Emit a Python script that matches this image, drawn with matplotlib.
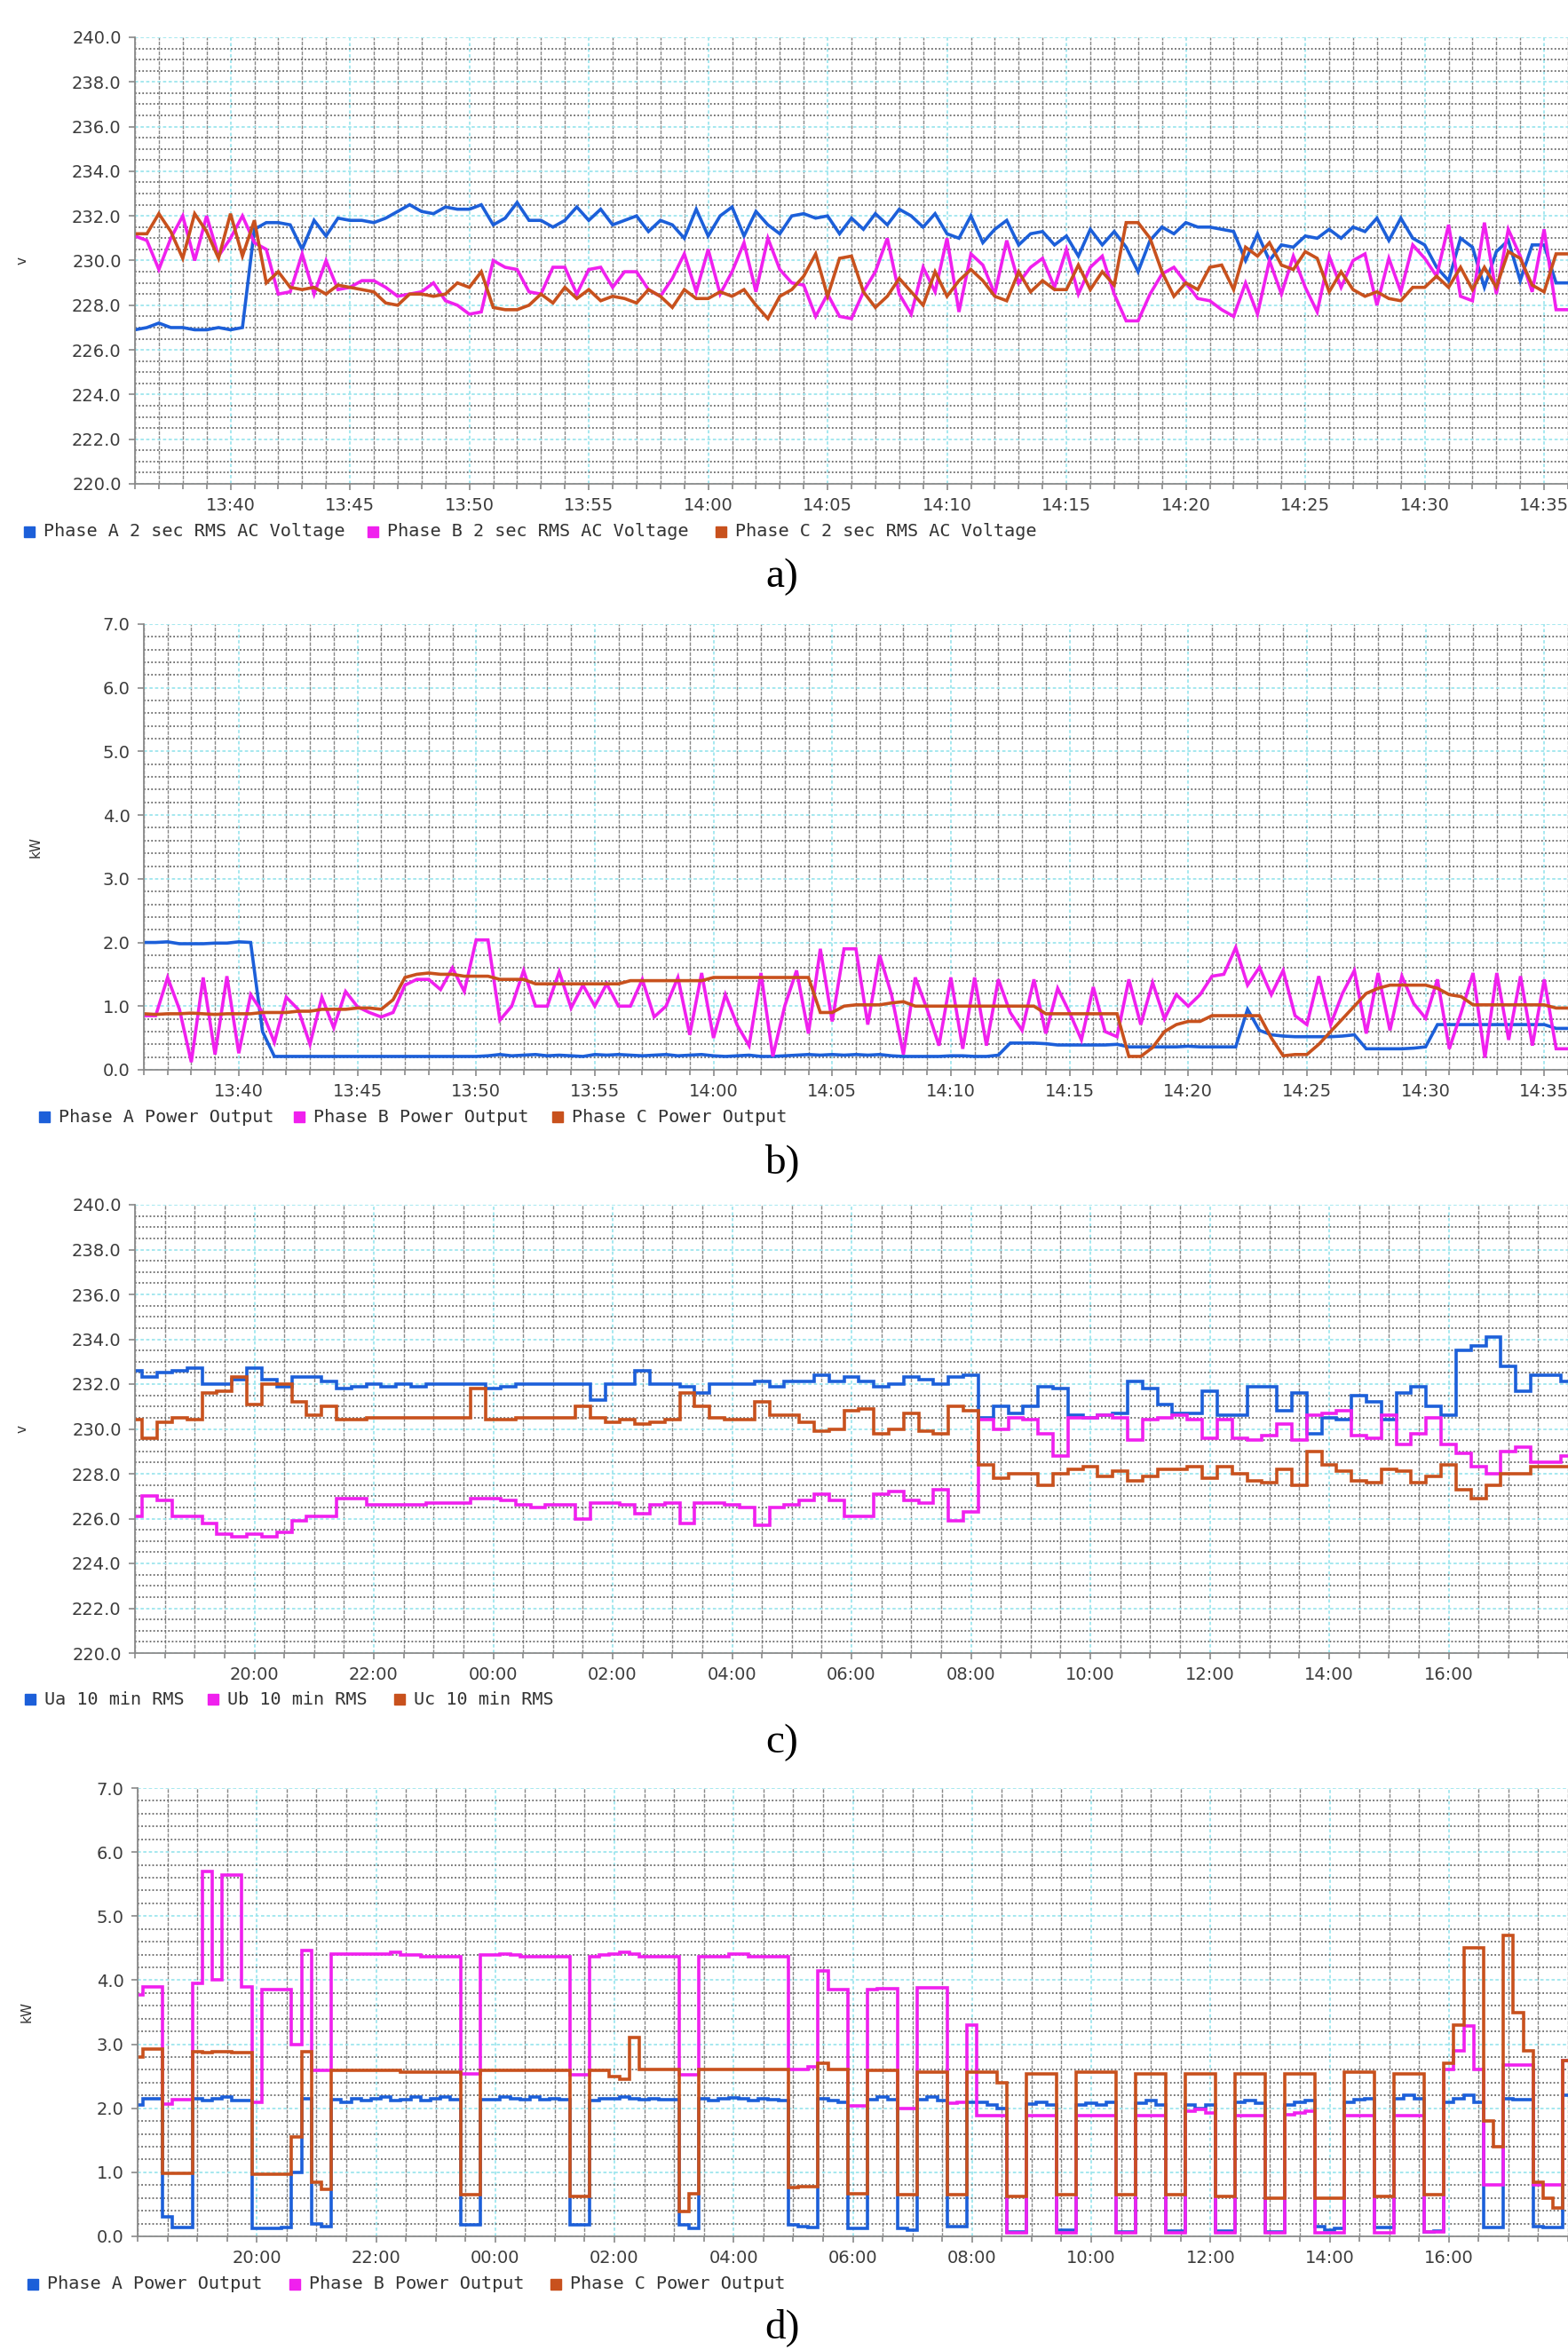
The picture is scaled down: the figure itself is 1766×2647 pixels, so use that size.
import numpy as np
import matplotlib.pyplot as plt
from matplotlib.patches import Rectangle
from matplotlib.ticker import MultipleLocator, FixedLocator

# ---- a) 2 sec RMS voltage, 13:36 - 14:36, one value per 30 s ----
va_a = [226.9, 227.0, 227.2, 227.0, 227.0, 226.9, 226.9, 227.0, 226.9, 227.0,
        231.4, 231.7, 231.7, 231.6, 230.5, 231.8, 231.1, 231.9, 231.8, 231.8,
        231.7, 231.9, 232.2, 232.5, 232.2, 232.1, 232.4, 232.3, 232.3, 232.5,
        231.6, 231.9, 232.6, 231.8, 231.8, 231.5, 231.8, 232.4, 231.8, 232.3,
        231.6, 231.8, 232.0, 231.3, 231.8, 231.6, 231.0, 232.3, 231.1, 232.0,
        232.4, 231.1, 232.2, 231.6, 231.2, 232.0, 232.1, 231.9, 232.0, 231.2,
        231.9, 231.4, 232.1, 231.6, 232.3, 232.0, 231.5, 232.1, 231.2, 231.0,
        232.0, 230.8, 231.4, 231.8, 230.7, 231.2, 231.3, 230.7, 231.1, 230.2,
        231.4, 230.7, 231.3, 230.6, 229.5, 230.9, 231.5, 231.2, 231.7, 231.5,
        231.5, 231.4, 231.3, 230.0, 231.2, 230.0, 230.7, 230.6, 231.1, 231.0,
        231.4, 231.0, 231.5, 231.3, 231.9, 230.9, 231.9, 231.0, 230.7, 229.7,
        229.1, 231.0, 230.6, 228.8, 230.4, 230.9, 229.1, 230.7, 230.7, 229.0]
vb_a = [231.1, 230.9, 229.6, 231.0, 232.0, 230.0, 232.0, 230.2, 231.0, 232.0,
        230.8, 230.5, 228.5, 228.6, 230.3, 228.5, 230.0, 228.7, 228.8, 229.1,
        229.1, 228.8, 228.4, 228.5, 228.6, 229.0, 228.2, 228.0, 227.6, 227.7,
        230.0, 229.7, 229.6, 228.6, 228.5, 229.7, 229.7, 228.5, 229.6, 229.7,
        228.8, 229.5, 229.5, 228.7, 228.4, 229.2, 230.3, 228.6, 230.5, 228.5,
        229.5, 230.8, 228.6, 231.0, 229.6, 229.0, 228.9, 227.5, 228.5, 227.5,
        227.4, 228.6, 229.5, 231.0, 228.5, 227.6, 229.7, 228.6, 231.0, 227.7,
        230.3, 229.8, 228.5, 230.9, 229.0, 229.7, 230.1, 228.8, 230.5, 228.5,
        229.7, 230.2, 228.5, 227.3, 227.3, 228.5, 229.4, 229.7, 229.0, 228.3,
        228.2, 227.8, 227.5, 229.0, 227.6, 230.0, 228.5, 230.2, 228.8, 227.7,
        230.2, 228.8, 230.0, 230.3, 228.0, 230.1, 228.6, 230.7, 230.1, 229.3,
        231.6, 228.4, 228.2, 231.7, 228.5, 231.4, 230.2, 228.6, 231.4, 227.8]
vc_a = [231.2, 231.2, 232.1, 231.3, 230.1, 232.1, 231.3, 230.1, 232.1, 230.2,
        231.8, 229.0, 229.5, 228.8, 228.7, 228.8, 228.5, 228.9, 228.8, 228.7,
        228.6, 228.1, 228.0, 228.5, 228.5, 228.4, 228.5, 229.0, 228.8, 229.5,
        227.9, 227.8, 227.8, 228.0, 228.5, 228.1, 228.8, 228.3, 228.7, 228.2,
        228.4, 228.3, 228.1, 228.7, 228.4, 227.9, 228.7, 228.3, 228.3, 228.6,
        228.4, 228.7, 228.0, 227.4, 228.4, 228.7, 229.3, 230.3, 228.4, 230.1,
        230.2, 228.6, 227.9, 228.4, 229.2, 228.6, 228.0, 229.5, 228.4, 229.1,
        229.6, 229.1, 228.4, 228.2, 229.5, 228.6, 229.1, 228.7, 228.7, 229.8,
        228.7, 229.5, 228.9, 231.7, 231.7, 231.0, 229.5, 228.4, 229.0, 228.7,
        229.7, 229.8, 228.7, 230.6, 230.2, 230.8, 229.8, 229.6, 230.4, 230.1,
        228.6, 229.5, 228.7, 228.4, 228.6, 228.3, 228.2, 228.8, 228.8, 229.3,
        228.8, 229.7, 228.7, 229.7, 228.8, 230.4, 230.1, 228.9, 228.6, 230.3]

# ---- b) power output, 13:36 - 14:36, one value per 30 s ----
pa_b = [2.00, 2.00, 2.01, 1.98, 1.98, 1.98, 1.99, 1.99, 2.01, 2.00,
        0.60, 0.21, 0.21, 0.21, 0.21, 0.21, 0.21, 0.21, 0.21, 0.21,
        0.21, 0.21, 0.21, 0.21, 0.21, 0.21, 0.21, 0.21, 0.21, 0.22,
        0.24, 0.22, 0.23, 0.24, 0.22, 0.23, 0.22, 0.21, 0.24, 0.23,
        0.24, 0.23, 0.22, 0.23, 0.24, 0.22, 0.23, 0.24, 0.22, 0.21,
        0.22, 0.23, 0.21, 0.21, 0.22, 0.23, 0.24, 0.23, 0.24, 0.23,
        0.24, 0.23, 0.24, 0.22, 0.21, 0.21, 0.21, 0.21, 0.22, 0.22,
        0.21, 0.21, 0.23, 0.42, 0.42, 0.42, 0.41, 0.39, 0.39, 0.39,
        0.39, 0.39, 0.40, 0.36, 0.36, 0.36, 0.36, 0.36, 0.37, 0.36,
        0.36, 0.36, 0.36, 0.95, 0.62, 0.55, 0.53, 0.52, 0.52, 0.52,
        0.52, 0.53, 0.55, 0.33, 0.33, 0.33, 0.33, 0.34, 0.36, 0.71,
        0.71, 0.71, 0.71, 0.71, 0.71, 0.71, 0.71, 0.71, 0.71, 0.65]
pb_b = [0.85, 0.85, 1.45, 0.95, 0.12, 1.45, 0.24, 1.47, 0.26, 1.18,
        0.90, 0.43, 1.14, 0.95, 0.40, 1.14, 0.66, 1.23, 0.99, 0.90,
        0.83, 0.90, 1.33, 1.42, 1.42, 1.26, 1.60, 1.23, 2.04, 2.04,
        0.78, 1.00, 1.56, 1.00, 1.00, 1.54, 0.97, 1.33, 1.00, 1.35,
        1.00, 1.00, 1.42, 0.83, 1.00, 1.45, 0.55, 1.52, 0.50, 1.18,
        0.70, 0.38, 1.52, 0.21, 1.00, 1.56, 0.57, 1.90, 0.76, 1.90,
        1.90, 0.71, 1.80, 1.18, 0.24, 1.45, 0.95, 0.38, 1.45, 0.33,
        1.45, 0.38, 1.42, 0.90, 0.62, 1.42, 0.57, 1.28, 0.90, 0.47,
        1.30, 0.60, 0.52, 1.42, 0.71, 1.37, 0.80, 1.18, 1.00, 1.18,
        1.47, 1.50, 1.92, 1.33, 1.61, 1.18, 1.56, 0.85, 0.71, 1.47,
        0.71, 1.20, 1.56, 0.57, 1.52, 0.62, 1.47, 1.04, 0.81, 1.42,
        0.33, 0.90, 1.52, 0.19, 1.52, 0.47, 1.47, 0.38, 1.42, 0.33]
pc_b = [0.88, 0.87, 0.88, 0.88, 0.89, 0.88, 0.87, 0.88, 0.88, 0.88,
        0.90, 0.90, 0.90, 0.92, 0.92, 0.95, 0.95, 0.95, 0.97, 0.97,
        0.95, 1.10, 1.45, 1.50, 1.52, 1.50, 1.50, 1.47, 1.47, 1.47,
        1.42, 1.42, 1.42, 1.35, 1.35, 1.35, 1.35, 1.35, 1.35, 1.35,
        1.35, 1.40, 1.40, 1.40, 1.40, 1.40, 1.40, 1.40, 1.45, 1.45,
        1.45, 1.45, 1.45, 1.45, 1.45, 1.45, 1.45, 0.90, 0.90, 1.00,
        1.02, 1.02, 1.02, 1.05, 1.07, 1.00, 1.00, 1.00, 1.00, 1.00,
        1.00, 1.00, 1.00, 1.00, 1.00, 1.00, 0.88, 0.88, 0.88, 0.88,
        0.88, 0.88, 0.88, 0.21, 0.21, 0.35, 0.60, 0.71, 0.76, 0.76,
        0.85, 0.85, 0.85, 0.85, 0.85, 0.50, 0.22, 0.24, 0.24, 0.40,
        0.60, 0.80, 1.00, 1.20, 1.28, 1.33, 1.33, 1.33, 1.33, 1.28,
        1.18, 1.15, 1.02, 1.02, 1.02, 1.02, 1.02, 1.02, 1.02, 0.97]

# ---- c) 10 min RMS voltage, 18:00 - 18:00, one value per 15 min ----
ua_c = [232.6, 232.3, 232.5, 232.6, 232.7, 232.0, 232.0, 232.2, 232.7, 232.2, 231.9, 232.3,
        232.3, 232.1, 231.8, 231.9, 232.0, 231.9, 232.0, 231.9, 232.0, 232.0, 232.0, 232.0,
        231.8, 231.9, 232.0, 232.0, 232.0, 232.0, 232.0, 231.3, 232.0, 232.0, 232.6, 232.0,
        232.0, 231.9, 231.6, 232.0, 232.0, 232.0, 232.1, 231.9, 232.1, 232.1, 232.4, 232.1,
        232.3, 232.1, 231.9, 232.0, 232.3, 232.2, 232.0, 232.3, 232.4, 230.5, 231.0, 230.7,
        231.0, 231.9, 231.8, 230.6, 230.5, 230.6, 230.7, 232.1, 231.8, 231.1, 230.7, 230.7,
        231.7, 230.6, 230.6, 231.9, 231.9, 230.8, 231.6, 229.8, 230.5, 230.4, 231.5, 231.2,
        230.4, 231.6, 231.9, 231.0, 230.6, 233.5, 233.7, 234.1, 232.8, 231.7, 232.4, 232.4,
        232.1]
ub_c = [226.1, 227.0, 226.8, 226.1, 226.1, 225.8, 225.3, 225.2, 225.3, 225.2, 225.4, 225.9,
        226.1, 226.1, 226.9, 226.9, 226.6, 226.6, 226.6, 226.6, 226.7, 226.7, 226.7, 226.9,
        226.9, 226.8, 226.6, 226.5, 226.6, 226.6, 226.0, 226.7, 226.7, 226.6, 226.2, 226.6,
        226.7, 225.8, 226.7, 226.7, 226.6, 226.5, 225.7, 226.5, 226.6, 226.8, 227.1, 226.8,
        226.1, 226.1, 227.1, 227.2, 226.8, 226.7, 227.3, 225.9, 226.3, 230.4, 230.0, 230.5,
        230.4, 229.8, 228.8, 230.5, 230.5, 230.6, 230.5, 229.5, 230.4, 230.5, 230.6, 230.4,
        229.6, 230.4, 229.6, 229.5, 229.7, 230.2, 229.5, 230.6, 230.7, 230.8, 229.7, 229.6,
        230.6, 229.3, 229.8, 230.5, 229.3, 228.9, 228.3, 228.0, 229.0, 229.2, 228.5, 228.5,
        228.8]
uc_c = [230.4, 229.6, 230.3, 230.5, 230.4, 231.6, 231.7, 232.3, 231.1, 232.0, 232.0, 231.2,
        230.6, 231.0, 230.4, 230.4, 230.5, 230.5, 230.5, 230.5, 230.5, 230.5, 230.5, 231.8,
        230.4, 230.4, 230.5, 230.5, 230.5, 230.5, 231.0, 230.5, 230.3, 230.4, 230.2, 230.3,
        230.4, 231.6, 231.0, 230.5, 230.4, 230.4, 231.2, 230.6, 230.6, 230.3, 229.9, 230.0,
        230.8, 230.9, 229.8, 230.0, 230.7, 229.9, 229.8, 231.0, 230.8, 228.4, 227.8, 228.0,
        228.0, 227.5, 228.0, 228.2, 228.3, 227.9, 228.1, 227.7, 227.9, 228.2, 228.2, 228.3,
        227.8, 228.3, 228.0, 227.7, 227.6, 228.2, 227.5, 229.0, 228.4, 228.1, 227.7, 227.6,
        228.2, 228.1, 227.6, 227.9, 228.4, 227.3, 226.9, 227.5, 228.0, 228.0, 228.3, 228.3,
        228.3]

# ---- d) power output, 18:00 - 18:00, one value per 10 min ----
pa_d = [2.05, 2.15, 2.15, 0.30, 0.14, 0.14, 2.15, 2.12, 2.15, 2.18, 2.12, 2.12,
        0.12, 0.12, 0.12, 0.14, 1.00, 2.15, 0.20, 0.15, 2.13, 2.10, 2.15, 2.12,
        2.15, 2.18, 2.12, 2.13, 2.17, 2.12, 2.15, 2.17, 2.13, 0.18, 0.18, 2.13,
        2.13, 2.17, 2.15, 2.13, 2.18, 2.14, 2.15, 2.13, 0.18, 0.18, 2.12, 2.15,
        2.15, 2.17, 2.15, 2.13, 2.15, 2.13, 2.13, 0.18, 0.12, 2.15, 2.12, 2.15,
        2.16, 2.15, 2.12, 2.15, 2.13, 2.12, 0.18, 0.15, 0.14, 2.15, 2.12, 2.10,
        0.12, 0.12, 2.13, 2.17, 2.13, 0.12, 0.10, 2.13, 2.17, 2.12, 0.15, 0.15,
        2.10, 2.10, 2.05, 2.00, 0.07, 0.07, 2.07, 2.10, 2.05, 0.10, 0.10, 2.05,
        2.08, 2.05, 2.10, 0.07, 0.07, 2.08, 2.12, 2.05, 0.09, 0.09, 2.05, 2.00,
        2.05, 0.09, 0.09, 2.10, 2.12, 2.08, 0.07, 0.07, 2.05, 2.10, 2.12, 0.15,
        0.10, 0.12, 2.10, 2.13, 2.15, 0.14, 0.14, 2.15, 2.20, 2.15, 0.07, 0.08,
        2.10, 2.15, 2.20, 2.10, 0.14, 0.14, 2.15, 2.13, 2.13, 0.15, 0.14, 0.14,
        2.20]
pb_d = [3.77, 3.90, 3.90, 2.06, 2.13, 2.13, 3.95, 5.70, 4.00, 5.64, 5.64, 3.90,
        2.10, 3.86, 3.86, 3.86, 3.00, 4.46, 2.59, 2.59, 4.41, 4.41, 4.41, 4.41,
        4.41, 4.41, 4.44, 4.39, 4.39, 4.37, 4.37, 4.37, 4.37, 2.54, 2.54, 4.39,
        4.39, 4.41, 4.39, 4.37, 4.37, 4.37, 4.37, 4.37, 2.52, 2.52, 4.37, 4.39,
        4.41, 4.44, 4.41, 4.37, 4.37, 4.37, 4.37, 2.52, 2.52, 4.37, 4.37, 4.37,
        4.41, 4.41, 4.37, 4.37, 4.37, 4.37, 2.61, 2.61, 2.65, 4.14, 3.86, 3.86,
        2.04, 2.04, 3.86, 3.87, 3.87, 2.00, 2.00, 3.88, 3.88, 3.88, 2.08, 2.10,
        3.30, 1.89, 1.89, 1.89, 0.05, 0.05, 1.89, 1.89, 1.89, 0.05, 0.05, 1.89,
        1.89, 1.89, 1.89, 0.05, 0.05, 1.89, 1.89, 1.89, 0.05, 0.05, 1.96, 1.98,
        1.93, 0.05, 0.05, 1.89, 1.89, 1.89, 0.05, 0.05, 1.90, 1.92, 1.95, 0.05,
        0.05, 0.05, 1.89, 1.89, 1.89, 0.05, 0.05, 1.89, 1.89, 1.89, 0.07, 0.07,
        2.60, 2.90, 3.28, 2.60, 0.81, 0.81, 2.68, 2.68, 2.68, 0.81, 0.81, 0.81,
        2.75]
pc_d = [2.80, 2.93, 2.93, 0.99, 0.99, 0.99, 2.89, 2.87, 2.89, 2.89, 2.87, 2.87,
        0.97, 0.97, 0.97, 0.97, 1.55, 2.89, 0.85, 0.74, 2.59, 2.59, 2.59, 2.59,
        2.59, 2.59, 2.59, 2.57, 2.57, 2.57, 2.57, 2.57, 2.57, 0.65, 0.65, 2.59,
        2.59, 2.59, 2.59, 2.59, 2.59, 2.59, 2.59, 2.59, 0.62, 0.62, 2.59, 2.59,
        2.50, 2.45, 3.10, 2.60, 2.61, 2.61, 2.61, 0.39, 0.67, 2.61, 2.61, 2.61,
        2.61, 2.61, 2.61, 2.61, 2.61, 2.61, 0.76, 0.78, 0.78, 2.70, 2.61, 2.61,
        0.67, 0.67, 2.59, 2.59, 2.59, 0.65, 0.65, 2.56, 2.56, 2.56, 0.65, 0.65,
        2.56, 2.56, 2.56, 2.40, 0.62, 0.62, 2.54, 2.54, 2.54, 0.65, 0.65, 2.56,
        2.56, 2.56, 2.56, 0.65, 0.65, 2.54, 2.54, 2.54, 0.65, 0.65, 2.54, 2.54,
        2.54, 0.62, 0.62, 2.54, 2.54, 2.54, 0.60, 0.60, 2.54, 2.54, 2.54, 0.60,
        0.60, 0.60, 2.56, 2.56, 2.56, 0.62, 0.62, 2.54, 2.54, 2.54, 0.65, 0.65,
        2.70, 3.30, 4.50, 4.50, 1.80, 1.40, 4.70, 3.50, 2.90, 0.85, 0.60, 0.44,
        2.75]

labels_a = ['Phase A 2 sec RMS AC Voltage', 'Phase B 2 sec RMS AC Voltage', 'Phase C 2 sec RMS AC Voltage']
labels_b = ['Phase A Power Output', 'Phase B Power Output', 'Phase C Power Output']
labels_c = ['Ua 10 min RMS', 'Ub 10 min RMS', 'Uc 10 min RMS']

W, H = 1766, 2647
fig = plt.figure(figsize=(W / 100, H / 100), dpi=100)
cols = ['#1c5fd9', '#f020ee', '#c8511d']


def box(l, t, r, b):
    return [l / W, 1 - b / H, (r - l) / W, (b - t) / H]


def hm(t0, step):
    # tick label formatter for clock times given in minutes
    def f(v):
        m = int(round(t0 + v * step)) % (24 * 60)
        return '%02d:%02d' % (m // 60, m % 60)
    return f


def panel(rect, series, dt, ylim, ymaj, ymin, xmax, xmaj, xmin, fmt, ylab, ylab_x, ds):
    ax = fig.add_axes(rect)
    for vals, c in zip(series, cols):
        y = np.append(vals, vals[-1])
        x = np.arange(len(y)) * dt
        ax.plot(x, y, color=c, lw=2.6, drawstyle=ds, solid_joinstyle='miter')
    ax.set_xlim(0, xmax)
    ax.set_ylim(*ylim)
    ax.yaxis.set_major_locator(MultipleLocator(ymaj))
    ax.yaxis.set_minor_locator(MultipleLocator(ymin))
    ax.xaxis.set_major_locator(FixedLocator(xmaj))
    ax.xaxis.set_minor_locator(MultipleLocator(xmin))
    ax.set_xticklabels([fmt(v) for v in xmaj])
    ax.set_yticklabels(['%.1f' % v for v in ax.get_yticks()])
    ax.set_axisbelow(True)
    ax.grid(which='major', color='#9ee6ee', lw=1.3, ls=(0, (2, 1.5)))
    ax.xaxis.grid(which='minor', color='#888888', lw=1.0, ls=(0, (3, 1)))
    ax.yaxis.grid(which='minor', color='#6a6a6a', lw=1.3, ls=(0, (1, 1.3)))
    for s in ['top', 'right']:
        ax.spines[s].set_visible(False)
    for s in ['left', 'bottom']:
        ax.spines[s].set_color('#8a8a8a')
        ax.spines[s].set_linewidth(1.3)
    ax.tick_params(which='both', colors='#8a8a8a', labelcolor='#3c3c3c', labelsize=14, width=1.2)
    ax.tick_params(which='major', length=5, pad=6)
    ax.tick_params(axis='y', which='minor', length=0)
    ax.tick_params(axis='x', which='minor', length=4)
    yc = rect[1] + rect[3] / 2
    fig.text(ylab_x / W, yc, ylab, rotation=90, fontsize=11,
             color='#333333', ha='center', va='center')
    return ax


def legend_row(yc, xs, labels):
    for x0, lab, c in zip(xs, labels, cols):
        fig.add_artist(Rectangle((x0 / W, 1 - (yc + 6) / H), 12 / W, 12 / H,
                                 transform=fig.transFigure, color=c))
        fig.text((x0 + 22) / W, 1 - yc / H, lab, fontsize=14.5, family='DejaVu Sans Mono',
                 color='#333333', va='center', ha='left')


def caption(yc, s):
    fig.text(881 / W, 1 - yc / H, s, fontsize=34, family='Liberation Serif',
             ha='center', va='center', color='black')


fa = hm(13 * 60 + 36, 1)
fc = hm(18 * 60, 60)
tick_a = list(range(4, 60, 5))
tick_c = list(range(2, 24, 2))

panel(box(152, 42, 1766, 545), [va_a, vb_a, vc_a], 0.5, (220, 240), 2, 0.5,
      60, tick_a, 1, fa, 'v', 25, 'default')
legend_row(599, [27, 414, 806], labels_a)
caption(650, 'a)')

panel(box(162, 703, 1766, 1205), [pa_b, pb_b, pc_b], 0.5, (0, 7), 1, 0.2,
      60, tick_a, 1, fa, 'kW', 40, 'default')
legend_row(1258, [44, 331, 622], labels_b)
caption(1310, 'b)')

panel(box(152, 1357, 1766, 1862), [ua_c, ub_c, uc_c], 0.25, (220, 240), 2, 0.5,
      24, tick_c, 0.5, fc, 'v', 25, 'steps-mid')
legend_row(1914, [28, 234, 444], labels_c)
caption(1963, 'c)')

panel(box(155, 2014, 1766, 2519), [pa_d, pb_d, pc_d], 1 / 6, (0, 7), 1, 0.2,
      24, tick_c, 0.5, fc, 'kW', 30, 'steps-mid')
legend_row(2573, [31, 326, 620], labels_b)
caption(2622, 'd)')

fig.savefig('out.png', dpi=100, facecolor='white')
